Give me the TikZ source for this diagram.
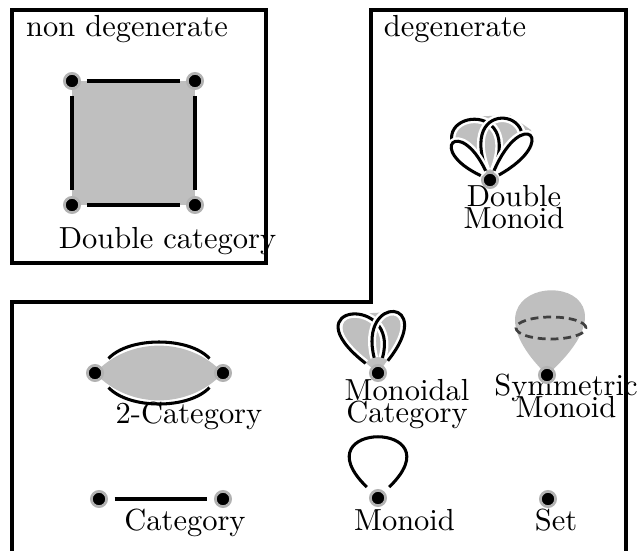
\documentclass[tikz,border=0pt]{standalone}
\usetikzlibrary{backgrounds}
\tikzset{
  dotnode/.style={circle, fill=black, draw=gray!60, line width=0.9pt, minimum size=5pt, inner sep=0pt},
  edgeline/.style={line width=1pt, shorten <=1.9pt, shorten >=1.9pt},
  loopline/.style={line width=1pt, shorten <=2.2pt, shorten >=2.2pt,
    preaction={draw=white, line width=2.6pt, shorten <=2.2pt, shorten >=2.2pt}},
  tightloop/.style={line width=1pt, shorten <=0.4pt, shorten >=0.4pt,
    preaction={draw=white, line width=2.6pt, shorten <=0.4pt, shorten >=0.4pt}},
  frameline/.style={line width=1.3pt},
  lbl/.style={anchor=base, inner sep=0pt},
  grayfill/.style={fill=gray!50},
}
\begin{document}
\begin{tikzpicture}[x=0.328pt,y=0.328pt]
\useasboundingbox (0,0) rectangle (639,-550);
\clip (0,0) rectangle (639,-550);

% labels
\node[lbl] (tnd) at (127,-36) {non degenerate};
\node[lbl] (td) at (455,-36) {degenerate};
\node[lbl] (tdc) at (167.5,-248) {Double category};
\node[lbl,align=center] (tdm) at (514,-228) {Double\\[-4.8pt]Monoid};
\node[lbl,align=center] (tmc) at (407,-422) {Monoidal\\[-4.8pt]Category};
\node[lbl,align=center] (tsm) at (566,-417) {Symmetric\\[-4.8pt]Monoid};
\node[lbl] (t2c) at (189,-423) {2-Category};
\node[lbl] (tc) at (185,-530) {Category};
\node[lbl] (tmo) at (404.5,-530) {Monoid};
\node[lbl] (tst) at (556,-530) {Set};

% frames
\draw[frameline] (12,-10) rectangle (266,-263);
\draw[frameline] (12,-570) -- (12,-302) -- (371,-302) -- (371,-10) -- (626,-10) -- (626,-570);

% dots
\node[dotnode] (dc1) at (72,-81) {};
\node[dotnode] (dc2) at (195,-81) {};
\node[dotnode] (dc3) at (72,-205) {};
\node[dotnode] (dc4) at (195,-205) {};
\node[dotnode] (dm) at (490,-180) {};
\node[dotnode] (tc1) at (95,-373) {};
\node[dotnode] (tc2) at (223,-373) {};
\node[dotnode] (mc) at (378,-373) {};
\node[dotnode] (sm) at (547,-375) {};
\node[dotnode] (c1) at (99,-499) {};
\node[dotnode] (c2) at (223,-499) {};
\node[dotnode] (mo) at (378,-498) {};
\node[dotnode] (st) at (548,-499) {};

% background fills
\begin{scope}[on background layer]
  \fill[grayfill] (dc1.center) rectangle (dc4.center);
  \fill[grayfill] (tc1.center) to[out=47,in=133] (tc2.center) to[out=-133,in=-47] (tc1.center);
  % monoidal category
  \fill[grayfill] (mc.center) .. controls +(-90,70) and +(23,79) .. (mc.center);
  \fill[grayfill] (mc.center) .. controls +(-20,80) and +(60,75) .. (mc.center);
  \fill[grayfill] (346,-330) -- (353,-314) -- (392,-312) -- (400,-330) -- (mc.center) -- cycle;
  % double monoid
  \fill[grayfill] (dm.center) .. controls +(-95,62) and +(37,93) .. (dm.center);
  \fill[grayfill] (dm.center) .. controls +(-35,93) and +(80,65) .. (dm.center);
  \fill[grayfill] (451,-146) -- (455,-128) -- (468,-117) -- (510,-115) -- (531,-130) -- (533,-140) -- (dm.center) -- cycle;
  % symmetric monoid balloon
  \fill[grayfill] (sm.center) .. controls +(-115,113) and +(127,113) .. (sm.center);
\end{scope}

% double category
\draw[edgeline] (dc1) -- (dc2);
\draw[edgeline] (dc3) -- (dc4);
\draw[edgeline] (dc1) -- (dc3);
\draw[edgeline] (dc2) -- (dc4);

% 2-category
\draw[line width=1pt, shorten <=6.5pt, shorten >=6.5pt] (tc1.center) to[out=47,in=133] (tc2.center);
\draw[line width=1pt, shorten <=6.5pt, shorten >=6.5pt] (tc1.center) to[out=-47,in=-133] (tc2.center);

% category
\draw[edgeline, shorten <=2.2pt, shorten >=2.2pt] (c1) -- (c2);

% monoid
\draw[loopline] (mo) .. controls +(-80,78) and +(80,78) .. (mo);

% monoidal category
\draw[loopline] (mc) .. controls +(-90,70) and +(23,79) .. (mc);
\draw[loopline] (mc) .. controls +(-20,80) and +(60,75) .. (mc);

% double monoid
\draw[tightloop] (dm) .. controls +(-95,62) and +(37,93) .. (dm);
\draw[tightloop] (dm) .. controls +(-35,93) and +(80,65) .. (dm);
\fill[white] (dm) .. controls +(-64.3,30.4) and +(-30.4,64.3) .. (dm);
\draw[tightloop] (dm) .. controls +(-64.3,30.4) and +(-30.4,64.3) .. (dm);
\fill[white] (dm) .. controls +(32.2,74.6) and +(70.8,39.8) .. (dm);
\draw[tightloop] (dm) .. controls +(32.2,74.6) and +(70.8,39.8) .. (dm);

% symmetric monoid
\draw[line width=0.9pt, draw=gray!50!black, dash pattern=on 2.6pt off 1.6pt] (551,-328) ellipse [x radius=35, y radius=11];
\end{tikzpicture}
\end{document}
